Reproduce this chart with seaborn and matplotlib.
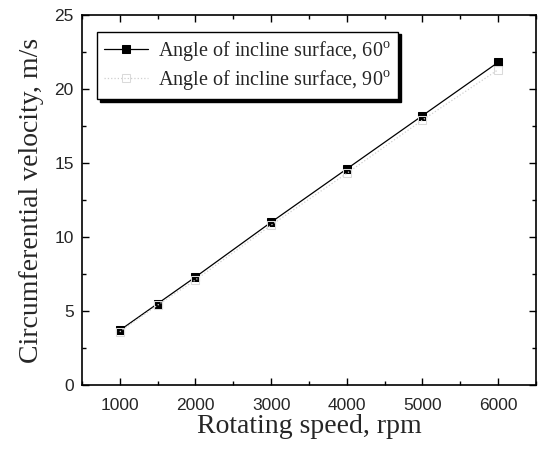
import matplotlib
matplotlib.use("Agg")
import matplotlib.pyplot as plt
import seaborn as sns
import pandas as pd
from matplotlib.ticker import MultipleLocator

speed = [1000, 1500, 2000, 3000, 4000, 5000, 6000]
vel_60 = [3.7, 5.5, 7.3, 11.0, 14.6, 18.2, 21.8]
vel_90 = [3.6, 5.4, 7.1, 10.8, 14.3, 17.9, 21.3]
label_60 = "Angle of incline surface, 60$^{\\rm o}$"
label_90 = "Angle of incline surface, 90$^{\\rm o}$"

df = pd.DataFrame({
    "speed": speed * 2,
    "vel": vel_60 + vel_90,
    "series": [label_60] * len(speed) + [label_90] * len(speed),
})

sns.set_style("ticks")
plt.rcParams["mathtext.fontset"] = "custom"
plt.rcParams["mathtext.rm"] = "Liberation Serif"

fig = plt.figure(figsize=(5.43, 4.53), dpi=100)
ax = fig.add_axes([0.151, 0.150, 0.836, 0.817])

sns.lineplot(data=df[df.series == label_60], x="speed", y="vel", ax=ax,
             color="black", lw=0.9, marker="s", markersize=6,
             markerfacecolor="black", markeredgecolor="black", label=label_60)
sns.lineplot(data=df[df.series == label_90], x="speed", y="vel", ax=ax,
             color="#cfcfcf", lw=0.9, linestyle=":", marker="s", markersize=6,
             markerfacecolor="none", markeredgecolor="#dadada", label=label_90)

ax.set_xlim(500, 6500)
ax.set_ylim(0, 25)
ax.xaxis.set_major_locator(MultipleLocator(1000))
ax.xaxis.set_minor_locator(MultipleLocator(500))
ax.yaxis.set_major_locator(MultipleLocator(5))
ax.yaxis.set_minor_locator(MultipleLocator(2.5))
ax.set_xticks([1000, 2000, 3000, 4000, 5000, 6000])
ax.tick_params(which="both", direction="in", top=True, right=True,
               labeltop=False, labelright=False, color="black")
ax.tick_params(which="major", length=5, width=1)
ax.tick_params(which="minor", length=3, width=1)
for lab in ax.get_xticklabels() + ax.get_yticklabels():
    lab.set_family("Liberation Sans")
    lab.set_fontsize(12.5)
ax.tick_params(axis="x", pad=9)
ax.tick_params(axis="y", pad=6)
for s in ax.spines.values():
    s.set_linewidth(1.2)
    s.set_color("black")

ax.set_xlabel("Rotating speed, rpm", family="Liberation Serif", fontsize=20, labelpad=1)
ax.set_ylabel("Circumferential velocity, m/s", family="Liberation Serif", fontsize=20, labelpad=7)

leg = ax.legend(loc="upper left", bbox_to_anchor=(0.033, 0.955),
                prop={"family": "Liberation Serif", "size": 14.5},
                frameon=True, fancybox=False, edgecolor="black",
                shadow={"color": "black", "alpha": 1}, handlelength=2.2,
                borderpad=0.35, labelspacing=0.25, handletextpad=0.5, borderaxespad=0)
leg.get_frame().set_linewidth(1.0)
leg.get_frame().set_alpha(1)

fig.savefig("out.png", dpi=100)
